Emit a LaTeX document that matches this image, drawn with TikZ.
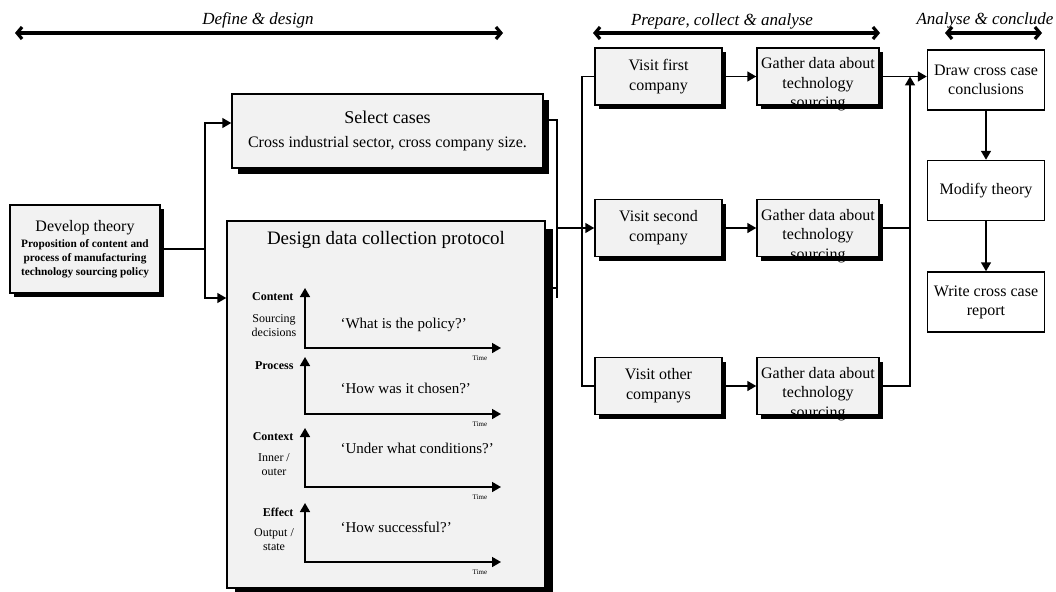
\documentclass[tikz,border=0pt]{standalone}
\usepackage{fontspec}
\setmainfont{Liberation Serif}
\usetikzlibrary{arrows.meta,shadows}
\definecolor{cfill}{HTML}{F2F2F2}
\newcommand{\fs}[2]{\fontsize{#1}{#2}\selectfont}
\newcommand{\gathertxt}{\parbox[c][38pt][t]{118pt}{\centering Gather data about\\technology\\sourcing}}
\tikzset{
  >={Triangle[length=9pt,width=10pt]},
  sbox/.style={draw,line width=1.5pt,fill=cfill,align=center,inner sep=2pt,
               drop shadow={shadow xshift=#1,shadow yshift=-#1,fill=black,opacity=1}},
  sbox/.default=4pt,
  vbox/.style={sbox,minimum width=127pt,minimum height=57pt,font=\fs{16}{20}},
  gbox/.style={sbox,minimum width=122pt,minimum height=57pt,font=\fs{16}{19.5}},
  pbox/.style={draw,line width=1.5pt,fill=white,align=center,inner sep=2pt,
               minimum width=117pt,minimum height=60pt,font=\fs{16}{19}},
  link/.style={line width=1.6pt},
  phasearrow/.style={line width=3.2pt,{Straight Barb[length=5pt,width=12pt]}-{Straight Barb[length=5pt,width=12pt]}},
  ph/.style={font=\fs{17}{20}\itshape},
  axis/.style={line width=1.6pt,<->},
  axname/.style={font=\fs{12}{14}\bfseries},
  axsub/.style={font=\fs{12}{14},align=center},
  ask/.style={font=\fs{15}{18}},
  tm/.style={font=\fs{7}{8}},
}
\begin{document}
\begin{tikzpicture}[x=1pt,y=-1pt]
\useasboundingbox (0,0) rectangle (1056,591);

% phases along the top
\coordinate (dA) at (15,33);  \coordinate (dB) at (503,33);
\coordinate (pA) at (593,33); \coordinate (pB) at (880,33);
\coordinate (aA) at (945,33); \coordinate (aB) at (1042,33);
\draw[phasearrow] (dA) -- (dB);
\draw[phasearrow] (pA) -- (pB);
\draw[phasearrow] (aA) -- (aB);
\node[ph] (hd) at (258,20) {Define \& design};
\node[ph] (hp) at (722,21) {Prepare, collect \& analyse};
\node[ph] (ha) at (985,20) {Analyse \& conclude};

% define & design
\node[sbox,minimum width=150pt,minimum height=88pt] (dev) at (85,249)
  {\parbox{146pt}{\centering{\fs{16}{20}Develop theory\par}\vspace{2pt}%
   \fs{11.3}{14}\bfseries Proposition of content and\\process of manufacturing\\technology sourcing policy}};
\node[sbox=6pt,minimum width=311pt,minimum height=74pt] (sel) at (387.5,131)
  {\parbox{300pt}{\centering{\fs{18}{24}Select cases\par}\vspace{5pt}\fs{16}{19}Cross industrial sector, cross company size.}};
\node[sbox=8pt,minimum width=318pt,minimum height=367pt] (des) at (386,404.5) {};
\node[font=\fs{19}{22}] (dest) at (386,240) {Design data collection protocol};

\foreach \ty/\cy/\qy/\nm/\sb/\q [count=\i] in {
  288/348/325/Content/{Sourcing\\decisions}/{`What is the policy?'},
  357/414/388/Process/{}/{`How was it chosen?'},
  428/487/448/Context/{Inner /\\outer}/{`Under what conditions?'},
  503/562/527/Effect/{Output /\\state}/{`How successful?'}}{
  \draw[axis] (305,\ty) |- (501,\cy);
  \node[axname,anchor=east] (n\i) at (297,{\ty+9}) {\nm};
  \node[axsub] (s\i) at (274,{\cy-22}) {\sb};
  \node[ask,anchor=west] (q\i) at (337,\qy) {\q};
  \node[tm] (t\i) at (480,{\cy+10}) {Time};
}

% prepare, collect & analyse
\node[vbox] (v1) at (658.5,76.5) {Visit first\\company};
\node[vbox] (v2) at (658.5,228) {Visit second\\company};
\node[vbox] (v3) at (658.5,386) {Visit other\\companys};
\node[gbox] (g1) at (818,76.5) {\gathertxt};
\node[gbox] (g2) at (818,228) {\gathertxt};
\node[gbox] (g3) at (818,386) {\gathertxt};

% analyse & conclude
\node[pbox] (dcc) at (986,80) {Draw cross case\\conclusions};
\node[pbox] (mod) at (986,190.5) {Modify theory};
\node[pbox] (wr) at (986,302) {Write cross case\\report};

% connectors
\coordinate (jL) at (205,249);
\coordinate (jR) at (557,298);
\coordinate (jV) at (582,0);
\coordinate (jG) at (910,0);
\draw[link] (dev.east) -- (jL);
\draw[link,->] (jL) |- ([yshift=8pt]sel.west);
\draw[link,->] (jL) |- (des.west |- 0,298);
\draw[link] ([yshift=11pt]sel.east) -| (jR);
\draw[link] (des.east |- 0,288) -- (jR |- 0,288);
\draw[link,->] (jR |- v2.west) -- (v2.west);
\draw[link] (v1.west) -- (jV |- v1.west) -- (jV |- v3.west) -- (v3.west);
\foreach \a/\b in {v1/g1,v2/g2,v3/g3}
  \draw[link,->] (\a.east) -- (\a.east -| \b.west);
\draw[link,->] (g1.east) -- (g1.east -| dcc.west);
\draw[link,->] (g3.east) -| (jG |- g1.east);
\draw[link] (g2.east) -- (g2.east -| jG);
\draw[link,->] (dcc) -- (mod);
\draw[link,->] (mod) -- (wr);

\end{tikzpicture}
\end{document}
